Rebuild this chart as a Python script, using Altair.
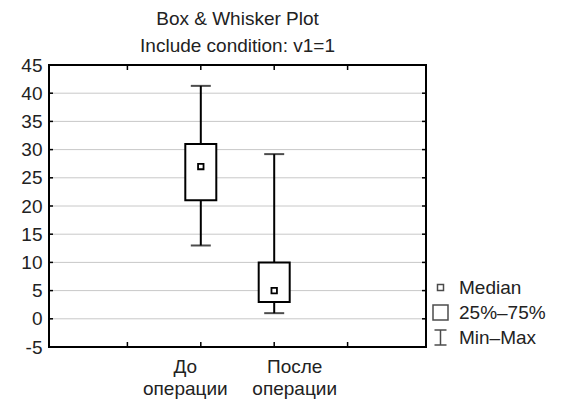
import json
import altair as alt
import pandas as pd

# ---- data ----
categories = ["До операции", "После операции"]
positions = [2, 3]
mins = [13.0, 1.0]
q1s = [21.0, 3.0]
medians = [27.0, 5.0]
q3s = [31.0, 10.0]
maxs = [41.3, 29.2]

y_ticks = [-5, 0, 5, 10, 15, 20, 25, 30, 35, 40, 45]
x_ticks = [1, 2, 3, 4]
legend_items = ["Median", "25%–75%", "Min–Max"]
legend_paths = [
    "M-0.4,-0.4H0.4V0.4H-0.4Z",
    "M-1,-1H1V1H-1Z",
    "M-0.8,-1H0.8M0,-1V1M-0.8,1H0.8",
]

df = pd.DataFrame({"cat": categories, "pos": positions, "min": mins, "q1": q1s,
                   "med": medians, "q3": q3s, "max": maxs})
grid_df = pd.DataFrame({"v": y_ticks[1:-1]})
ytick_df = pd.DataFrame({"v": y_ticks})
xtick_df = pd.DataFrame({"v": x_ticks})
leg_df = pd.DataFrame({"item": legend_items, "x": [-10] * 3, "y": [0] * 3})
frame_df = pd.DataFrame({"k": [0]})

FONT = "Liberation Sans"
TXT = "#222222"
W, H = 377, 282

xscale = alt.Scale(domain=[0, 5], nice=False, zero=False)
yscale = alt.Scale(domain=[-5, 45], nice=False, zero=False)

label_expr = " : ".join(
    f"datum.value == {p} ? {json.dumps(c.split(' '), ensure_ascii=False)}"
    for p, c in zip(positions, categories)
) + " : ''"

xaxis = alt.Axis(values=positions, labelExpr=label_expr, ticks=False, domain=False,
                 grid=False, labelFontSize=19, labelFont=FONT, labelColor=TXT,
                 labelPadding=10, labelLineHeight=22,
                 labelOffset=alt.condition(f"datum.value == {positions[0]}",
                                           alt.value(-16), alt.value(20)),
                 title=None)
yaxis = alt.Axis(values=y_ticks, ticks=False, domain=False, grid=False,
                 labelExpr="'' + datum.value",
                 labelFontSize=19, labelFont=FONT, labelColor=TXT,
                 labelPadding=7, title=None)

X = lambda f: alt.X(f, scale=xscale, axis=xaxis)
Y = lambda f: alt.Y(f, scale=yscale, axis=yaxis)

grid = alt.Chart(grid_df).mark_rule(color="#c8c8c8", strokeWidth=1).encode(
    y=Y("v:Q"), x=alt.value(0), x2=alt.value(W))

whisk = alt.Chart(df).mark_rule(color="black", strokeWidth=2).encode(
    x=X("pos:Q"), y=Y("min:Q"), y2="max:Q")
cap_lo = alt.Chart(df).mark_tick(orient="horizontal", size=20, thickness=2,
                                 color="black").encode(x=X("pos:Q"), y=Y("min:Q"))
cap_hi = alt.Chart(df).mark_tick(orient="horizontal", size=20, thickness=2,
                                 color="black").encode(x=X("pos:Q"), y=Y("max:Q"))
box = alt.Chart(df).mark_bar(size=31, fill="white", stroke="black", strokeWidth=2,
                             orient="vertical").encode(
    x=X("pos:Q"), y=Y("q1:Q"), y2="q3:Q")
med = alt.Chart(df).mark_point(shape="square", filled=True, fill="white",
                               stroke="black", strokeWidth=1.8, size=30,
                               opacity=1).encode(x=X("pos:Q"), y=Y("med:Q"))

tick_l = alt.Chart(ytick_df).mark_rule(color="black", strokeWidth=1.5).encode(
    y=Y("v:Q"), x=alt.value(0), x2=alt.value(4))
tick_r = alt.Chart(ytick_df).mark_rule(color="black", strokeWidth=1.5).encode(
    y=Y("v:Q"), x=alt.value(W - 4), x2=alt.value(W))
tick_b = alt.Chart(xtick_df).mark_rule(color="black", strokeWidth=1.5).encode(
    x=X("v:Q"), y=alt.value(H), y2=alt.value(H - 5))
tick_t = alt.Chart(xtick_df).mark_rule(color="black", strokeWidth=1.5).encode(
    x=X("v:Q"), y=alt.value(0), y2=alt.value(5))

frame = alt.Chart(frame_df).mark_rect(fill=None, stroke="black", strokeWidth=2).encode(
    x=alt.value(0), x2=alt.value(W), y=alt.value(0), y2=alt.value(H))

legend = alt.Chart(leg_df).mark_point(clip=True, filled=False, color="black",
                                      strokeWidth=1.5).encode(
    x=X("x:Q"), y=Y("y:Q"),
    shape=alt.Shape("item:N", scale=alt.Scale(domain=legend_items, range=legend_paths),
                    legend=alt.Legend(orient="none", legendX=382, legendY=213,
                                      title=None, labelFontSize=19, labelFont=FONT,
                                      labelColor=TXT, symbolSize=225,
                                      symbolStrokeWidth=1.5, symbolStrokeColor="black",
                                      symbolFillColor="white", rowPadding=4,
                                      labelOffset=9)))

chart = alt.layer(grid, whisk, cap_lo, cap_hi, box, med, tick_l, tick_r, tick_b,
                  tick_t, frame, legend).properties(
    width=W, height=H,
    autosize=alt.AutoSizeParams(type="none"),
    padding={"left": 41, "top": 57, "right": 130, "bottom": 52},
    title=alt.TitleParams(text=["Box & Whisker Plot", "Include condition: v1=1"],
                          fontSize=19, font=FONT, fontWeight="normal", color=TXT,
                          lineHeight=27, offset=0, anchor="middle"),
).configure_view(stroke=None).configure(background="white")

chart.save("out.html", embed_options={"renderer": "svg", "actions": False})
